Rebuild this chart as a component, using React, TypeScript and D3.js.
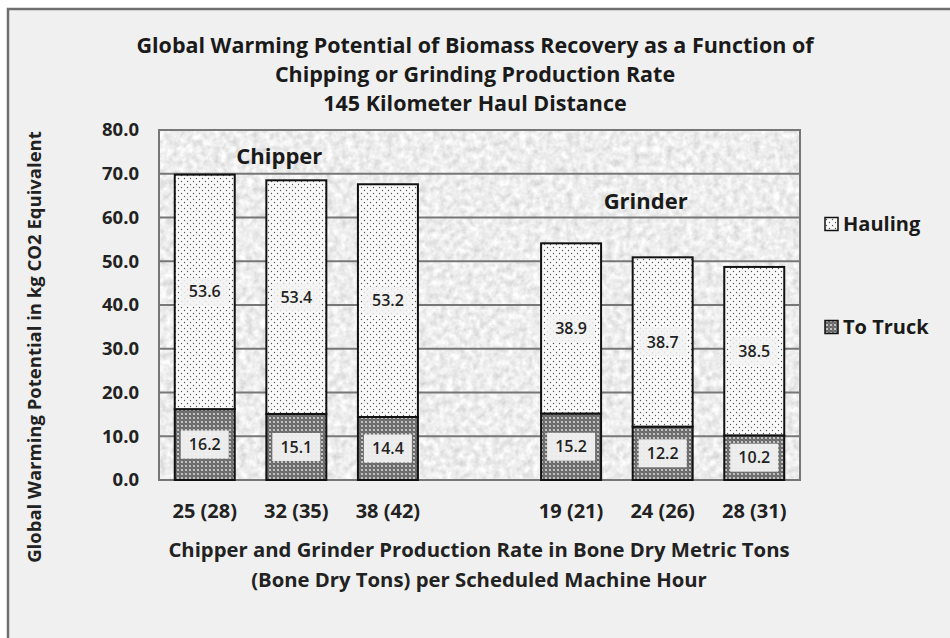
import React, { useEffect, useRef } from "react";
import * as d3 from "d3";

const categories = ["25 (28)", "32 (35)", "38 (42)", "", "19 (21)", "24 (26)", "28 (31)"];
const toTruck = [16.2, 15.1, 14.4, null, 15.2, 12.2, 10.2];
const hauling = [53.6, 53.4, 53.2, null, 38.9, 38.7, 38.5];
const yTicks = [0, 10, 20, 30, 40, 50, 60, 70, 80];
const titleLines = [
  "Global Warming Potential of Biomass Recovery as a Function of",
  "Chipping or Grinding Production Rate",
  "145 Kilometer Haul Distance",
];
const xTitleLines = [
  "Chipper and Grinder Production Rate in Bone Dry Metric Tons",
  "(Bone Dry Tons) per Scheduled Machine Hour",
];
const yTitle = "Global Warming Potential in kg CO2 Equivalent";
const groups = [
  { name: "Chipper", at: "32 (35)", value: 74 },
  { name: "Grinder", at: "24 (26)", value: 63.6 },
];
const legend = [
  { name: "Hauling", fill: "url(#dots)" },
  { name: "To Truck", fill: "url(#hatch)" },
];

const FONT = "'Open Sans', 'Noto Sans', sans-serif";

const App = () => {
  const chart = useRef<SVGSVGElement>(null);

  useEffect(() => {
    const svg = d3.select(chart.current);
    svg.selectAll("*").remove();
    const plot = { left: 159, right: 800, top: 130, bottom: 480 };

    const defs = svg.append("defs");
    const noise = defs.append("filter").attr("id", "granite")
      .attr("x", 0).attr("y", 0).attr("width", 1).attr("height", 1);
    noise.append("feTurbulence").attr("type", "fractalNoise")
      .attr("baseFrequency", 0.15).attr("numOctaves", 3).attr("seed", 4);
    noise.append("feColorMatrix").attr("type", "matrix")
      .attr("values", "0.5 0 0 0 0.6  0.5 0 0 0 0.6  0.5 0 0 0 0.6  0 0 0 0 1");

    const dots = defs.append("pattern").attr("id", "dots")
      .attr("patternUnits", "userSpaceOnUse").attr("width", 6).attr("height", 6);
    dots.append("rect").attr("width", 6).attr("height", 6).attr("fill", "#fafafa");
    dots.append("circle").attr("cx", 1.5).attr("cy", 1.5).attr("r", 0.7).attr("fill", "#555");
    dots.append("circle").attr("cx", 4.5).attr("cy", 4.5).attr("r", 0.7).attr("fill", "#555");

    const hatch = defs.append("pattern").attr("id", "hatch")
      .attr("patternUnits", "userSpaceOnUse").attr("width", 4).attr("height", 4);
    hatch.append("rect").attr("width", 4).attr("height", 4).attr("fill", "#6a6a6a");
    hatch.append("circle").attr("cx", 2).attr("cy", 2).attr("r", 1.1).attr("fill", "#d8d8d8");
    hatch.append("circle").attr("cx", 0).attr("cy", 0).attr("r", 0.6).attr("fill", "#b0b0b0");
    hatch.append("circle").attr("cx", 4).attr("cy", 4).attr("r", 0.6).attr("fill", "#b0b0b0");

    // chart area
    svg.append("rect").attr("width", 950).attr("height", 638).attr("fill", "#fff");
    svg.append("rect").attr("x", 8).attr("y", 9).attr("width", 960).attr("height", 650)
      .attr("fill", "#f0f0f0").attr("stroke", "#6f6f6f").attr("stroke-width", 2.5);

    const x = d3.scaleBand()
      .domain(categories.map((c, i) => String(i)))
      .range([plot.left, plot.right])
      .paddingInner(0.345)
      .paddingOuter(0.172);

    const y = d3.scaleLinear().domain([0, 80]).range([plot.bottom, plot.top]);

    svg.append("rect")
      .attr("x", plot.left).attr("y", plot.top)
      .attr("width", plot.right - plot.left).attr("height", plot.bottom - plot.top)
      .attr("filter", "url(#granite)");

    svg.append("g")
      .selectAll("line")
      .data(yTicks)
      .join("line")
        .attr("x1", plot.left).attr("x2", plot.right)
        .attr("y1", d => y(d)).attr("y2", d => y(d))
        .attr("stroke", "#777").attr("stroke-width", 2);

    svg.append("rect")
      .attr("x", plot.left).attr("y", plot.top)
      .attr("width", plot.right - plot.left).attr("height", plot.bottom - plot.top)
      .attr("fill", "none").attr("stroke", "#777").attr("stroke-width", 2);

    const rows = categories.map((c, i) => ({ i, truck: toTruck[i], haul: hauling[i] }))
      .filter(d => d.truck != null);

    const bars = svg.append("g");
    bars.selectAll("rect.truck")
      .data(rows)
      .join("rect")
        .attr("class", "truck")
        .attr("x", d => x(String(d.i)))
        .attr("y", d => y(d.truck))
        .attr("width", x.bandwidth())
        .attr("height", d => y(0) - y(d.truck))
        .attr("fill", "url(#hatch)")
        .attr("stroke", "#111").attr("stroke-width", 2);
    bars.selectAll("rect.haul")
      .data(rows)
      .join("rect")
        .attr("class", "haul")
        .attr("x", d => x(String(d.i)))
        .attr("y", d => y(d.truck + d.haul))
        .attr("width", x.bandwidth())
        .attr("height", d => y(d.truck) - y(d.truck + d.haul))
        .attr("fill", "url(#dots)")
        .attr("stroke", "#111").attr("stroke-width", 2);

    const labels = rows.flatMap(d => [
      { i: d.i, v: d.truck, mid: d.truck / 2 },
      { i: d.i, v: d.haul, mid: d.truck + d.haul / 2 },
    ]);
    const lab = svg.append("g").selectAll("g").data(labels).join("g")
      .attr("transform", d => `translate(${x(String(d.i)) + x.bandwidth() / 2},${y(d.mid)})`);
    lab.append("rect")
      .attr("x", -24).attr("y", -14).attr("width", 48).attr("height", 28)
      .attr("fill", "#f2f2f2").attr("opacity", d => d.mid < 20 ? 0.95 : 0.85);
    lab.append("text")
      .attr("text-anchor", "middle").attr("dy", "0.35em")
      .attr("font-family", FONT).attr("font-weight", 600).attr("font-size", 16)
      .attr("fill", "#222")
      .text(d => d.v.toFixed(1));

    // y axis labels
    svg.append("g")
      .selectAll("text")
      .data(yTicks)
      .join("text")
        .attr("x", 139).attr("y", d => y(d)).attr("dy", "0.35em")
        .attr("text-anchor", "end")
        .attr("font-family", FONT).attr("font-weight", 700).attr("font-size", 18.5)
        .attr("fill", "#222")
        .text(d => d.toFixed(1));

    // x axis labels
    svg.append("g")
      .selectAll("text")
      .data(categories.map((c, i) => ({ c, i })).filter(d => d.c))
      .join("text")
        .attr("x", d => x(String(d.i)) + x.bandwidth() / 2).attr("y", 518)
        .attr("text-anchor", "middle")
        .attr("font-family", FONT).attr("font-weight", 700).attr("font-size", 20)
        .attr("fill", "#222")
        .text(d => d.c);

    svg.append("g")
      .selectAll("text")
      .data(xTitleLines)
      .join("text")
        .attr("x", 479).attr("y", (d, i) => 557 + i * 30)
        .attr("text-anchor", "middle")
        .attr("font-family", FONT).attr("font-weight", 700).attr("font-size", 20.3)
        .attr("fill", "#222")
        .text(d => d);

    svg.append("text")
      .attr("transform", "translate(41,347) rotate(-90)")
      .attr("text-anchor", "middle")
      .attr("font-family", FONT).attr("font-weight", 700).attr("font-size", 18.5)
      .attr("fill", "#222")
      .text(yTitle);

    svg.append("g")
      .selectAll("text")
      .data(titleLines)
      .join("text")
        .attr("x", 475).attr("y", (d, i) => 53 + i * 29)
        .attr("text-anchor", "middle")
        .attr("font-family", FONT).attr("font-weight", 700).attr("font-size", 21.5)
        .attr("fill", "#1a1a1a")
        .text(d => d);

    svg.append("g")
      .selectAll("text")
      .data(groups)
      .join("text")
        .attr("x", d => x(String(categories.indexOf(d.at))) + x.bandwidth() / 2 - 17)
        .attr("y", d => y(d.value))
        .attr("dy", "0.35em")
        .attr("text-anchor", "middle")
        .attr("font-family", FONT).attr("font-weight", 700).attr("font-size", 22)
        .attr("fill", "#1a1a1a")
        .text(d => d.name);

    const leg = svg.append("g").selectAll("g").data(legend).join("g")
      .attr("transform", (d, i) => `translate(825,${224 + i * 103})`);
    leg.append("rect")
      .attr("x", 0).attr("y", -6.5).attr("width", 13).attr("height", 13)
      .attr("fill", d => d.fill).attr("stroke", "#111").attr("stroke-width", 1.5);
    leg.append("text")
      .attr("x", 18).attr("dy", "0.36em")
      .attr("font-family", FONT).attr("font-weight", 700).attr("font-size", 20)
      .attr("fill", "#1a1a1a")
      .text(d => d.name);
  }, []);

  return (
    <svg ref={chart} width={950} height={638}
      style={{ position: "absolute", left: 0, top: 0, display: "block" }} />
  );
};

export default App;
